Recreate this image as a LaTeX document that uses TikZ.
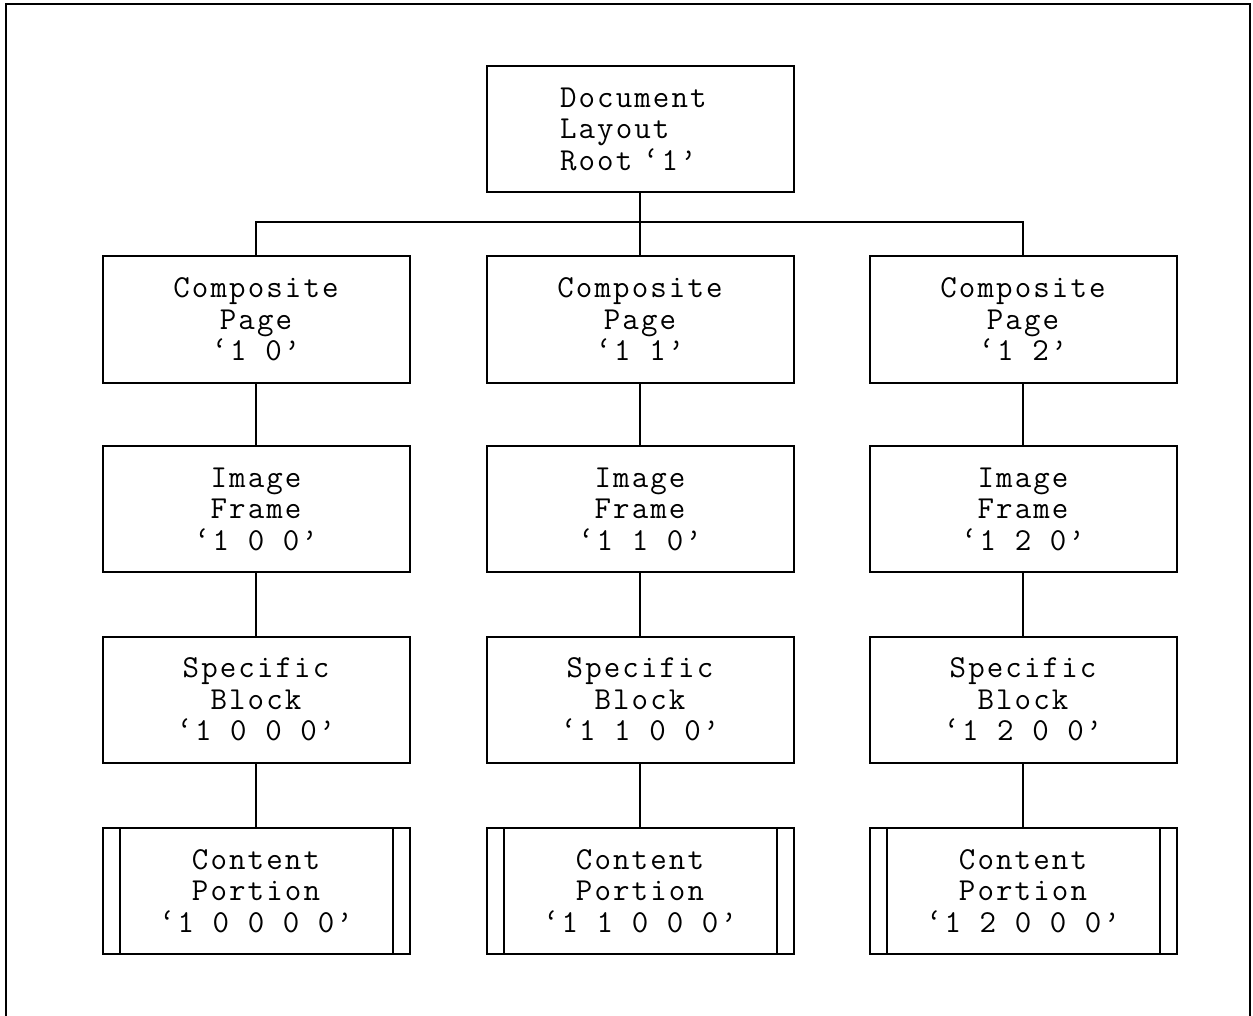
\documentclass[tikz,border=0pt]{standalone}
\usepackage{fontspec}
\newfontfamily\boxmono[LetterSpace=6.6]{Latin Modern Mono}
\begin{document}
\begin{tikzpicture}[x=1pt,y=-1pt,
  box/.style={draw,line width=2pt,minimum width=307pt,minimum height=126pt,inner sep=0pt,
    align=center,font=\boxmono\fontsize{32}{31.5}\selectfont},
  conn/.style={line width=2pt}]
\useasboundingbox (0,0) rectangle (1253,1016);
\draw[line width=2.4pt] (6,1016) -- (6,4) -- (1250,4) -- (1250,1016);
\node[box,align=left,text width=160pt] (root) at (640,129) {Document\\Layout\\Root ‘1’};
\foreach \c/\x in {0/256,1/640,2/1023}{
  \node[box] (p\c) at (\x,319.5) {Composite\\Page\\‘1 \c’};
  \node[box] (f\c) at (\x,509) {Image\\Frame\\‘1 \c{} 0’};
  \node[box] (b\c) at (\x,699.5) {Specific\\Block\\‘1 \c{} 0 0’};
  \node[box] (c\c) at (\x,891) {Content\\Portion\\‘1 \c{} 0 0 0’};
  \draw[conn] ([xshift=18pt]c\c.north west) -- ([xshift=18pt]c\c.south west);
  \draw[conn] ([xshift=-18pt]c\c.north east) -- ([xshift=-18pt]c\c.south east);
  \draw[conn] (p\c) -- (f\c);
  \draw[conn] (f\c) -- (b\c);
  \draw[conn] (b\c) -- (c\c);
}
\draw[conn] (root) -- (p1);
\draw[conn] (p0.north) -- ++(0,-33) coordinate (bl) -| (p2.north);
\end{tikzpicture}
\end{document}
